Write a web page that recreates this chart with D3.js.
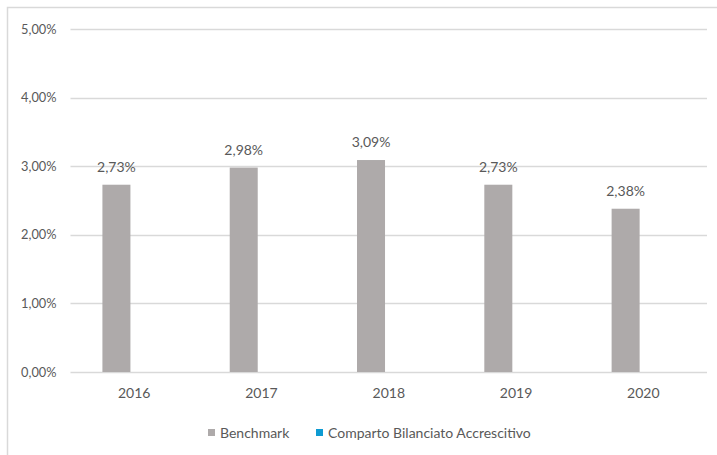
<!DOCTYPE html>
<html>
<head>
<meta charset="utf-8">
<script src="https://cdn.jsdelivr.net/npm/d3@7"></script>
<style>
  html, body { margin: 0; padding: 0; background: #fff; }
  svg { display: block; }
  text { font-family: Lato, "Open Sans", sans-serif; fill: #595959; }
</style>
</head>
<body>
<script>
// Annual returns per year (percent)
const years = ["2016", "2017", "2018", "2019", "2020"];
const seriesNames = ["Benchmark", "Comparto Bilanciato Accrescitivo"];
const benchmark = [2.73, 2.98, 3.09, 2.73, 2.38];
const comparto = [null, null, null, null, null];
const yTicks = [0, 1, 2, 3, 4, 5];
const colors = ["#AEAAAA", "#0E9BD2"];

const W = 717, H = 455;
const margin = { left: 70.5, right: 10, top: 29, bottom: 83 };

const svg = d3.select("body").append("svg").attr("width", W).attr("height", H);

// outer frame of the chart area
svg.append("rect")
  .attr("x", 7.5).attr("y", 7.5)
  .attr("width", W + 20).attr("height", H + 20)
  .attr("fill", "none").attr("stroke", "#D9D9D9").attr("stroke-width", 1.5);

const fmt = v => v.toFixed(2).replace(".", ",") + "%";

const y = d3.scaleLinear().domain([0, 5]).range([H - margin.bottom, margin.top]);
const x0 = d3.scaleBand().domain(years).range([margin.left, W - margin.right]).padding(0);
const x1 = d3.scaleBand().domain(seriesNames).range([0, x0.bandwidth()])
  .paddingInner(0.21).paddingOuter(0.9);

// gridlines
svg.append("g").selectAll("line").data(yTicks).join("line")
  .attr("x1", margin.left).attr("x2", W - margin.right)
  .attr("y1", d => Math.round(y(d)) + 0.5).attr("y2", d => Math.round(y(d)) + 0.5)
  .attr("stroke", "#D9D9D9").attr("stroke-width", 1.3);

// y axis labels
const yAxis = d3.axisLeft(y).tickValues(yTicks).tickSize(0).tickPadding(14)
  .tickFormat(d => fmt(d));
svg.append("g").attr("transform", `translate(${margin.left},0)`).call(yAxis)
  .call(g => g.select(".domain").remove())
  .selectAll("text")
  .style("font-family", "Lato, sans-serif").style("font-size", "12.8px")
  .attr("fill", "#595959");

// x axis labels
const xAxis = d3.axisBottom(x0).tickSize(0).tickPadding(16);
svg.append("g").attr("transform", `translate(0,${y(0)})`).call(xAxis)
  .call(g => g.select(".domain").remove())
  .selectAll("text")
  .style("font-family", "Lato, sans-serif").style("font-size", "14px")
  .attr("fill", "#595959");

// bars
const rows = years.map((yr, i) => ({ year: yr, values: [benchmark[i], comparto[i]] }));
const groups = svg.append("g").selectAll("g").data(rows).join("g")
  .attr("transform", d => `translate(${x0(d.year)},0)`);

groups.selectAll("rect")
  .data(d => d.values.map((v, k) => ({ name: seriesNames[k], value: v, k }))
    .filter(e => e.value !== null))
  .join("rect")
  .attr("x", d => x1(d.name))
  .attr("width", x1.bandwidth())
  .attr("y", d => y(d.value))
  .attr("height", d => y(0) - y(d.value))
  .attr("fill", d => colors[d.k]);

// value labels
groups.selectAll("text.val")
  .data(d => d.values.map((v, k) => ({ name: seriesNames[k], value: v }))
    .filter(e => e.value !== null))
  .join("text")
  .attr("class", "val")
  .attr("x", d => x1(d.name) + x1.bandwidth() / 2)
  .attr("y", d => y(d.value) - 13)
  .attr("text-anchor", "middle")
  .style("font-size", "14px")
  .text(d => fmt(d.value));

// legend
const legend = svg.append("g").attr("transform", "translate(0,433)");
const legendX = [208, 316];
seriesNames.forEach((name, i) => {
  legend.append("rect").attr("x", legendX[i]).attr("y", -4)
    .attr("width", 7).attr("height", 7).attr("fill", colors[i]);
  legend.append("text").attr("x", legendX[i] + 12).attr("y", 0)
    .attr("dy", "0.35em").style("font-size", "14px").text(name);
});
</script>
</body>
</html>
